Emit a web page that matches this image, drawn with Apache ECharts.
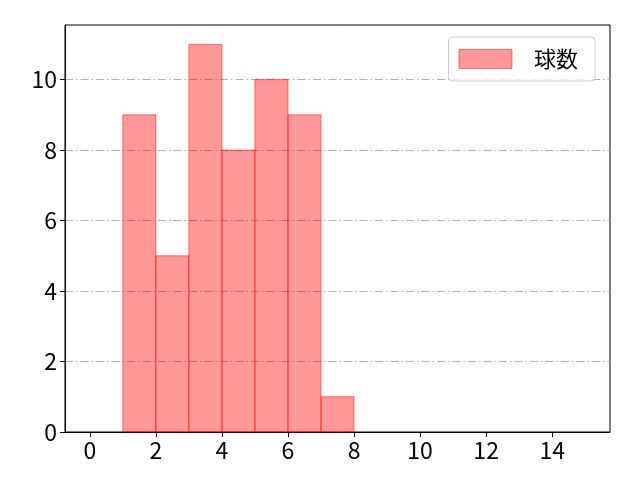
<!DOCTYPE html>
<html><head><meta charset="utf-8">
<script src="https://cdn.jsdelivr.net/npm/echarts@6/dist/echarts.min.js"></script>
<style>html,body{margin:0;padding:0;background:#fff}#c{width:640px;height:480px}</style>
</head><body><div id="c"></div>
<script>
const seriesName = '球数';
const binStarts = [1, 2, 3, 4, 5, 6, 7];
const binEnds   = [2, 3, 4, 5, 6, 7, 8];
const counts    = [9, 5, 11, 8, 10, 9, 1];
const xTicks = [0, 2, 4, 6, 8, 10, 12, 14];
const yTicks = [0, 2, 4, 6, 8, 10];

const data = binStarts.map((s, i) => [s, binEnds[i], counts[i]]);
const font = '"Noto Sans CJK JP", "DejaVu Sans", sans-serif';
const chart = echarts.init(document.getElementById('c'), null, {renderer: 'canvas'});
chart.setOption({
  animation: false,
  backgroundColor: '#fff',
  grid: {left: 65, right: 30, top: 25, bottom: 48, show: true, borderColor: '#000', borderWidth: 1, containLabel: false},
  legend: {
    right: 45, top: 37,
    backgroundColor: 'rgba(255,255,255,0.8)',
    borderColor: '#cccccc', borderWidth: 1, borderRadius: 4,
    padding: [11, 17, 11, 10],
    itemWidth: 53, itemHeight: 19,
    icon: 'rect',
    itemStyle: {color: 'rgba(255,0,0,0.4)', borderColor: 'rgba(255,0,0,0.5)', borderWidth: 1},
    textStyle: {fontSize: 22, fontFamily: font, color: '#000', padding: [0, 0, 0, 17]},
    data: [seriesName]
  },
  xAxis: {
    type: 'value', min: -0.75, max: 15.75,
    splitLine: {show: false},
    axisLine: {show: true, onZero: false, lineStyle: {color: '#000', width: 1}},
    axisTick: {show: true, inside: false, length: 5, customValues: xTicks, lineStyle: {color: '#000'}},
    axisLabel: {customValues: xTicks, fontSize: 23, fontFamily: font, color: '#000', margin: 7}
  },
  yAxis: {
    type: 'value', min: 0, max: 11.55,
    splitLine: {show: true, showMinLine: false, lineStyle: {color: '#b0b0b0', width: 1, type: [8, 3, 1.5, 3]}},
    axisLine: {show: true, onZero: false, lineStyle: {color: '#000', width: 1}},
    axisTick: {show: true, inside: false, length: 5, customValues: yTicks, lineStyle: {color: '#000'}},
    axisLabel: {customValues: yTicks, fontSize: 23, fontFamily: font, color: '#000', margin: 8}
  },
  series: [{
    name: seriesName,
    type: 'custom',
    itemStyle: {color: 'rgba(255,0,0,0.4)'},
    encode: {x: [0, 1], y: 2},
    renderItem: function (params, api) {
      const p0 = api.coord([api.value(0), 0]);
      const p1 = api.coord([api.value(1), api.value(2)]);
      return {
        type: 'rect',
        shape: {x: p0[0], y: p1[1], width: p1[0] - p0[0], height: p0[1] - p1[1]},
        style: {fill: 'rgba(255,0,0,0.4)', stroke: 'rgba(255,0,0,0.5)', lineWidth: 1}
      };
    },
    data: data
  }]
});
</script></body></html>
